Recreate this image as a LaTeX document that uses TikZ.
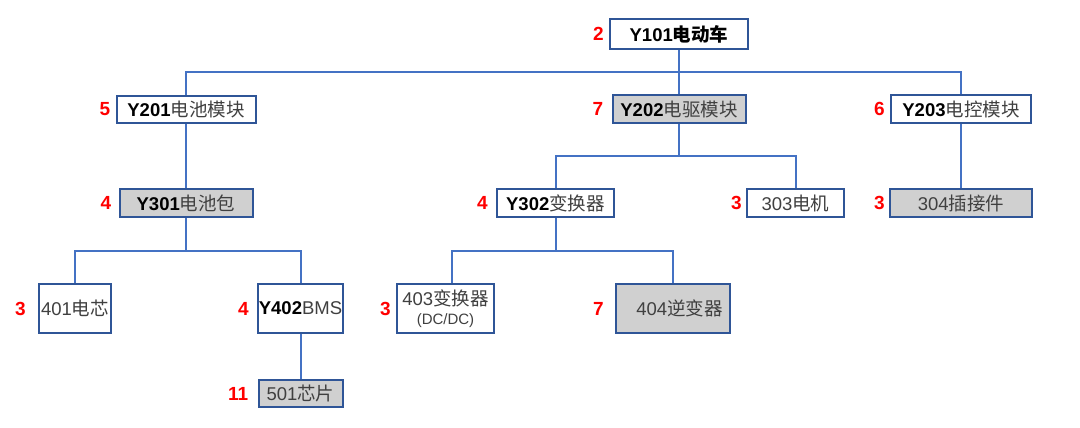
\documentclass[tikz,border=0pt]{standalone}
\usepackage{fontspec}
\setmainfont{Liberation Sans}
\newfontfamily\cjk{Noto Sans CJK SC}
\usetikzlibrary{calc,positioning}
\definecolor{boxline}{HTML}{2F5597}
\definecolor{connline}{HTML}{4472C4}
\definecolor{boxgray}{HTML}{D0D0D0}
\definecolor{txt}{HTML}{404040}
\definecolor{lab}{HTML}{FF0000}
\newcommand\Ynum[1]{{\color{black}\bfseries #1}}
\tikzset{
  part/.style={draw=boxline, line width=2pt, rectangle, inner sep=0pt, fill=white,
    text=txt, font=\fontsize{18.5}{21}\selectfont, align=center},
  grayfill/.style={fill=boxgray},
  conn/.style={draw=connline, line width=2pt},
  cnt/.style={text=lab, font=\fontsize{19}{21}\selectfont\bfseries, inner sep=0pt},
}
\begin{document}
\begin{tikzpicture}[x=1pt,y=-1pt]
\fill[white] (0,0) rectangle (1080,428);
\useasboundingbox (0,0) rectangle (1080,428);

% level 1
\node[part, minimum width=138pt, minimum height=30pt] (y101) at (679,34)
  {\color{black}\bfseries Y101\cjk 电动车};
% level 2
\node[part, minimum width=139pt, minimum height=27pt] (y201) at (186,109.5)
  {\Ynum{Y201}{\cjk 电池模块}};
\node[part, grayfill, minimum width=133pt, minimum height=28pt] (y202) at (679,109)
  {\Ynum{Y202}{\cjk 电驱模块}};
\node[part, minimum width=140pt, minimum height=28pt] (y203) at (961,109)
  {\Ynum{Y203}{\cjk 电控模块}};
% level 3
\node[part, grayfill, minimum width=133pt, minimum height=28pt] (y301) at (186,203)
  {\Ynum{Y301}{\cjk 电池包}};
\node[part, minimum width=117pt, minimum height=28pt] (y302) at (555.5,203)
  {\Ynum{Y302}{\cjk 变换器}};
\node[part, minimum width=97pt, minimum height=28pt] (n303) at (795.5,203)
  {303{\cjk 电机}};
\node[part, grayfill, minimum width=142pt, minimum height=28pt] (n304) at (961,203)
  {304{\cjk 插接件}};
% level 4
\node[part, minimum width=72pt, minimum height=49pt] (n401) at (75,308.5)
  {401{\cjk 电芯}};
\node[part, minimum width=85pt, minimum height=49pt] (y402) at (300.5,308.5)
  {\Ynum{Y402}BMS};
\node[part, minimum width=97pt, minimum height=49pt] (n403) at (445.5,308.5)
  {403{\cjk 变换器}\\[-2pt]{\fontsize{15}{17}\selectfont (DC/DC)}};
\node[part, grayfill, minimum width=114pt, minimum height=49pt] (n404) at (673,308.5)
  {\hspace*{13pt}404{\cjk 逆变器}};
% level 5
\node[part, grayfill, minimum width=84pt, minimum height=27pt] (n501) at (300.5,393.5)
  {501{\cjk 芯片}};

% counts
\node[cnt, left=5pt of y101] (c101) {2};
\node[cnt, left=5pt of y201] (c201) {5};
\node[cnt, left=8pt of y202] (c202) {7};
\node[cnt, left=5pt of y203] (c203) {6};
\node[cnt, left=7pt of y301] (c301) {4};
\node[cnt, left=8pt of y302] (c302) {4};
\node[cnt, left=4pt of n303] (c303) {3};
\node[cnt, left=4pt of n304] (c304) {3};
\node[cnt, left=12pt of n401] (c401) {3};
\node[cnt, left=8pt of y402] (c402) {4};
\node[cnt, left=5pt of n403] (c403) {3};
\node[cnt, left=11pt of n404] (c404) {7};
\node[cnt, left=9pt of n501] (c501) {11};

% hubs
\coordinate (h1) at ($(y101.south)!0.5!(y202.north)$);
\coordinate (h2) at ($(y202.south)!0.5!(y202.south |- y302.north)$);
\coordinate (h3) at ($(y301.south)!0.5!(y301.south |- n401.north)$);
\coordinate (h4) at ($(y302.south)!0.5!(y302.south |- n403.north)$);

% connectors
\draw[conn] (y101.south) -- (h1) -| (y201.north);
\draw[conn] (h1) -| (y203.north);
\draw[conn] (h1) -- (y202.north);
\draw[conn] (y201.south) -- (y301.north);
\draw[conn] (y203.south) -- (n304.north);
\draw[conn] (y202.south) -- (h2) -| (y302.north);
\draw[conn] (h2) -| (n303.north);
\draw[conn] (y301.south) -- (h3) -| (n401.north);
\draw[conn] (h3) -| (y402.north);
\draw[conn] (y302.south) -- (h4) -| ([xshift=6.5pt]n403.north);
\draw[conn] (h4) -| (n404.north);
\draw[conn] (y402.south) -- (n501.north);
\end{tikzpicture}
\end{document}
